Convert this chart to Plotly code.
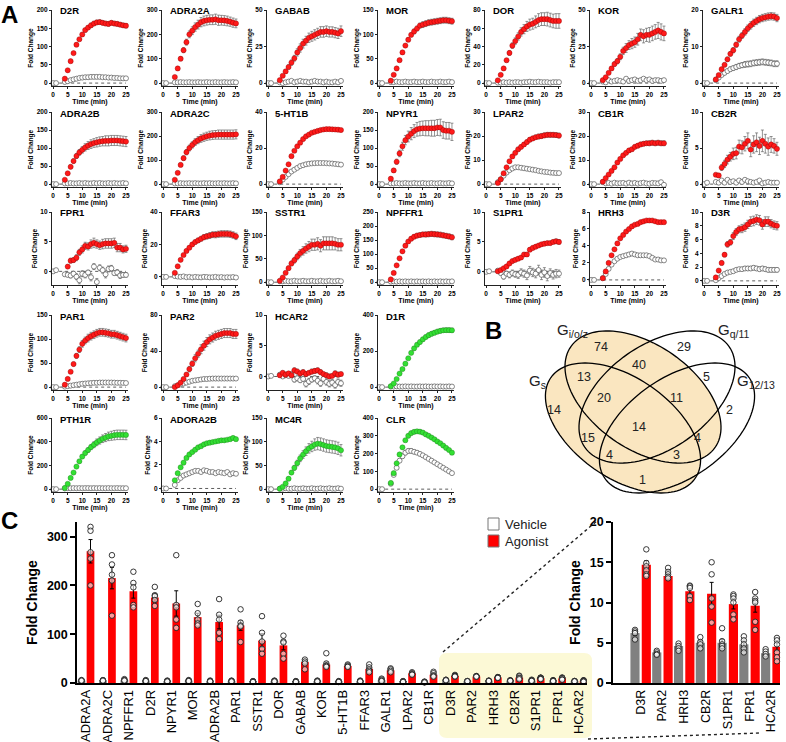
import numpy as np
import plotly.graph_objects as go

W, H = 786, 742

# ---------------- panel A data (time courses) ----------------
T_VEH = [0, 1, 4, 5, 6, 7, 8, 9, 10, 11, 12, 13, 14, 15, 16, 17, 18, 19, 20, 21, 22, 23, 24, 25]
T_AG = [4, 5, 6, 7, 8, 9, 10, 11, 12, 13, 14, 15, 16, 17, 18, 19, 20, 21, 22, 23, 24, 25]

D2R_AG = [12, 35, 60, 82, 105, 120, 133, 145, 152, 158, 163, 166, 167, 165, 163, 162, 165, 163, 162, 160, 158, 157]
D2R_AG_ERR = [1, 2, 3, 3, 4, 4, 5, 5, 5, 6, 6, 6, 6, 6, 6, 6, 6, 6, 6, 6, 6, 6]
D2R_VEH = [0, 0, 3, 5, 8, 10, 12, 14, 15, 16, 16, 17, 17, 17, 17, 16, 16, 15, 15, 14, 14, 13, 13, 13]

ADRA2A_AG = [25, 60, 100, 135, 168, 200, 215, 230, 240, 250, 255, 258, 260, 260, 262, 258, 258, 257, 255, 252, 248, 245]
ADRA2A_AG_ERR = [3, 5, 8, 10, 12, 14, 16, 17, 18, 19, 20, 20, 20, 20, 21, 21, 20, 20, 20, 19, 19, 18]
ADRA2A_VEH = [0, 0, 3, 3, 4, 3, 3, 4, 3, 3, 4, 3, 3, 4, 3, 3, 4, 3, 3, 4, 3, 3, 4, 3]

GABAB_AG = [2, 5, 8, 11, 14, 17, 21, 24, 27, 29, 31, 32, 33, 34, 35, 35, 35.5, 35, 35, 34.5, 34, 35.5]
GABAB_AG_ERR = [0.5, 0.8, 1, 1.5, 1.8, 2, 2.5, 2.8, 3, 3, 3.2, 3.4, 3.5, 3.5, 3.6, 3.6, 3.6, 3.5, 3.5, 3.5, 3.5, 3.6]
GABAB_VEH = [0, 0, 0.5, 0, 0.5, 1, 1.5, 0.5, 1, 1.5, 1, 1, 0.5, 1, 1.5, 1, 1, 0.5, 1, 0.5, 0.5, 1, 0.5, 1.5]

MOR_AG = [5, 17, 30, 47, 63, 77, 89, 99, 106, 112, 118, 120, 122, 124, 125, 126, 127, 128, 129, 129, 128, 127]
MOR_AG_ERR = [1, 1, 2, 2, 3, 3, 4, 4, 5, 5, 5, 6, 6, 6, 6, 6, 6, 6, 6, 6, 6, 6]
MOR_VEH = [0, 0, 2, 2, 3, 2, 2, 3, 2, 2, 3, 2, 2, 3, 2, 2, 3, 2, 2, 3, 2, 2, 3, 2]

DOR_AG = [3, 9, 16, 25, 33, 41, 46, 51, 56, 59, 62, 64, 65, 67, 69, 70, 70, 70, 69, 68, 68, 68]
DOR_AG_ERR = [0.5, 1, 1.5, 2, 2.5, 3, 3.5, 4, 4.5, 5, 5.5, 6, 6, 6.5, 7, 7, 7, 7.5, 7.5, 7.5, 8, 8]
DOR_VEH = [0, 0, 0.5, 0.5, 1, 0.5, 1, 0.5, 1, 1, 0.5, 1, 1, 1.5, 1, 1, 1.5, 1, 1, 1, 0.5, 1, 1, 1]

KOR_AG = [2, 4, 7, 10, 13, 15, 18, 22, 24, 26, 27, 28, 30, 33, 32, 33, 33, 34, 35, 36, 35, 34]
KOR_AG_ERR = [0.5, 0.8, 1, 1.2, 1.5, 1.8, 2, 2.5, 3, 3, 3.5, 3.5, 4, 4, 4.5, 4.5, 5, 5, 5, 5.5, 5.5, 5]
KOR_VEH = [0, 0, 1, 0.5, 2, 1, 1.5, 2, 1.5, 1, 3, 1.5, 2, 2.5, 1.5, 2, 3, 2, 2.5, 1.5, 2, 2, 1.5, 2]

GALR1_AG = [1, 2.2, 3.8, 5, 6.5, 8, 9, 10.5, 12, 13, 14, 15, 15.8, 16.5, 17, 17.5, 17.8, 18, 18.2, 18.3, 18.2, 17.8]
GALR1_AG_ERR = [0.2, 0.3, 0.4, 0.5, 0.6, 0.6, 0.7, 0.7, 0.8, 0.8, 0.9, 0.9, 1, 1, 1, 1, 1, 1, 1, 1, 1, 1]
GALR1_VEH = [0, 0, 0.8, 1.5, 2.2, 2.8, 3.3, 3.8, 4.1, 4.4, 4.7, 4.9, 5.1, 5.2, 5.3, 5.5, 5.6, 5.7, 5.8, 5.7, 5.6, 5.5, 5.3, 5.3]
GALR1_VEH_ERR = [0, 0, 0.2, 0.3, 0.4, 0.5, 0.5, 0.6, 0.6, 0.7, 0.7, 0.7, 0.8, 0.8, 0.8, 0.8, 0.8, 0.8, 0.8, 0.8, 0.8, 0.8, 0.8, 0.8]

ADRA2B_AG = [12, 30, 48, 64, 78, 88, 95, 102, 107, 111, 114, 116, 118, 119, 120, 120, 121, 121, 121, 120, 119, 118]
ADRA2B_AG_ERR = [2, 3, 5, 6, 7, 8, 9, 10, 11, 12, 12, 13, 13, 13, 14, 14, 14, 14, 14, 14, 14, 14]
ADRA2B_VEH = [0, 0, 2, 2, 3, 2, 2, 3, 2, 3, 2, 2, 3, 2, 3, 2, 2, 3, 2, 3, 2, 2, 3, 2]

ADRA2C_AG = [18, 47, 80, 108, 133, 150, 163, 175, 183, 190, 195, 199, 202, 204, 205, 206, 206, 206, 206, 206, 206, 207]
ADRA2C_AG_ERR = [3, 5, 7, 9, 11, 12, 13, 14, 15, 16, 17, 17, 18, 18, 18, 19, 19, 19, 19, 19, 19, 19]
ADRA2C_VEH = [0, 0, 3, 3, 4, 3, 3, 4, 3, 4, 3, 3, 4, 3, 4, 3, 3, 4, 3, 4, 3, 3, 4, 3]

HT1B_AG = [1.5, 4, 7.5, 11, 15.5, 18.5, 21, 23, 25, 26.5, 27.5, 28.5, 29, 29.5, 30, 30.3, 30.5, 30.5, 30.4, 30.3, 30.2, 30]
HT1B_VEH = [0, 0, 1, 2.5, 4, 5.5, 7, 8, 9, 10, 10.5, 11, 11.3, 11.5, 11.6, 11.7, 11.7, 11.7, 11.6, 11.5, 11.4, 11.2, 11, 10.8]

NPYR1_AG = [15, 38, 62, 85, 105, 122, 132, 140, 147, 152, 154, 155, 155, 155, 155, 155, 157, 157, 150, 148, 148, 145]
NPYR1_AG_ERR = [3, 5, 7, 9, 11, 13, 15, 17, 18, 19, 20, 20, 21, 21, 22, 22, 22, 23, 23, 23, 23, 24]
NPYR1_VEH = [0, 0, 2, 2, 3, 2, 2, 3, 2, 2, 3, 2, 2, 3, 2, 2, 3, 2, 2, 3, 2, 2, 3, 2]

LPAR2_AG = [0.5, 2, 4.5, 7, 9.5, 11.5, 13, 14.5, 15.5, 16.5, 17.5, 18.5, 19, 19.5, 19.8, 20, 20.3, 20.5, 20.5, 20.5, 20.4, 20.2]
LPAR2_AG_ERR = [0.2, 0.3, 0.4, 0.5, 0.6, 0.7, 0.7, 0.8, 0.8, 0.8, 0.9, 0.9, 0.9, 0.9, 1, 1, 1, 1, 1, 1, 1, 1]
LPAR2_VEH = [0, 0, 0.8, 2, 3.5, 4.8, 5.8, 6.5, 7, 7, 6.8, 6.6, 6.4, 6.2, 6, 5.8, 5.5, 5.3, 5.1, 5, 4.8, 4.7, 4.6, 4.6]

CB1R_AG = [1, 2.5, 4, 5.5, 7, 9, 10.5, 12, 13, 14, 14.5, 15.5, 16, 16.5, 16.8, 17, 17, 17.2, 17, 17.2, 17, 17]
CB1R_AG_ERR = [0.2, 0.3, 0.4, 0.5, 0.5, 0.6, 0.6, 0.7, 0.7, 0.8, 0.8, 0.8, 0.9, 0.9, 0.9, 0.9, 1, 1, 1, 1, 1, 1]
CB1R_VEH = [0, 0, 0.8, 0.3, 0.5, 0.2, 0.6, 0.3, 0.4, 0.5, 0.2, 0.6, 0.3, 0.5, 0.2, 0.4, 0.6, 0.3, 0.2, 0.5, 0.4, 0.3, 0.8, -0.3]

CB2R_AG = [1.3, 1.2, 2.3, 2.8, 3.4, 3.8, 4.2, 4.3, 5.2, 5.1, 5.6, 6, 4.8, 5.5, 5.8, 5.3, 6, 5.6, 5.2, 5.5, 5.3, 4.9]
CB2R_AG_ERR = [0.2, 0.2, 0.4, 0.5, 0.6, 0.6, 0.8, 0.8, 0.9, 0.9, 1, 1.1, 1, 1.2, 1.3, 1.2, 1.5, 1.3, 1.2, 1.1, 1, 0.9]
CB2R_VEH = [0, 0.2, 0.3, 0.2, 0.5, 0.2, 0.6, 0.3, 0.4, 0.2, 0.5, 0.3, 0.6, 0.4, 0.3, 0.2, 0.3, 0.5, 0.1, 0.2, 0.3, 0.2, 0.2, 0.2]

FPR1_AG = [None, 0.8, 1.8, 1.9, 2.3, 3.2, 3.7, 4.3, 4.2, 4.6, 4.8, 4.6, 4.4, 4.6, 4.7, 4.7, 4.7, 4.8, 4.0, 4.0, 3.7, 3.8]
FPR1_AG_ERR = [0, 0.3, 0.4, 0.4, 0.5, 0.5, 0.6, 0.6, 0.6, 0.7, 0.8, 0.7, 0.7, 0.8, 0.8, 0.8, 0.8, 0.8, 0.7, 0.7, 0.6, 0.6]
FPR1_VEH = [0, 0.2, -0.5, -0.6, -0.7, -0.4, -0.9, -1.5, -0.4, -0.6, -0.2, -1.0, 0.8, -1.8, 0.6, 0.2, -0.5, 0.4, 0.5, -0.3, -0.2, -0.7, -0.6, -0.6]
FPR1_VEH_ERR = [0, 0, 0.3, 0.3, 0.4, 0.4, 0.5, 0.6, 0.5, 0.5, 0.4, 0.6, 0.5, 0.6, 0.5, 0.5, 0.6, 0.5, 0.5, 0.4, 0.5, 0.5, 0.4, 0.4]

FFAR3_AG = [2.5, 6.5, 10.5, 13.5, 16, 18, 20, 21.5, 22.5, 23.5, 24.5, 25, 25.5, 26, 26, 26.3, 26.5, 26.5, 26.5, 26.3, 25.8, 25]
FFAR3_AG_ERR = [0.3, 0.5, 0.7, 0.8, 1, 1.1, 1.2, 1.3, 1.4, 1.5, 1.6, 1.7, 1.8, 1.8, 1.9, 1.9, 2, 2, 2, 2, 2, 2]
FFAR3_VEH = [0, 0, 0.5, 0.2, 0, 0.3, -0.2, 0, -0.3, 0, -0.2, -0.3, 0, -0.1, -0.3, -0.2, 0, -0.3, -0.1, -0.4, -0.2, -0.3, -0.1, -0.4]

SSTR1_AG = [3, 10, 20, 30, 40, 47, 55, 62, 67, 72, 76, 80, 80, 82, 78, 83, 83, 83, 83, 82, 80, 80]
SSTR1_AG_ERR = [1, 2, 3, 4, 5, 6, 7, 8, 9, 10, 11, 12, 12, 13, 13, 14, 14, 14, 14, 13, 13, 13]
SSTR1_VEH = [0, 0, 2, 2, 3, 2, 2, 3, 2, 2, 3, 2, 2, 3, 2, 2, 3, 2, 2, 3, 2, 2, 3, 2]

NPFFR1_AG = [10, 33, 60, 85, 110, 130, 145, 155, 162, 166, 168, 170, 170, 171, 172, 171, 170, 169, 167, 165, 163, 160]
NPFFR1_AG_ERR = [2, 3, 4, 5, 5, 6, 6, 7, 7, 8, 8, 8, 9, 9, 9, 9, 9, 9, 9, 9, 9, 9]
NPFFR1_VEH = [0, 0, 2, 3, 2, 3, 2, 3, 2, 3, 2, 3, 2, 3, 2, 3, 2, 3, 2, 3, 2, 3, 2, 3]

S1PR1_AG = [0.1, 0.3, 0.6, 0.9, 1.4, 1.8, 2.0, 2.2, 2.4, 2.9, 2.9, 3.7, 4.0, 4.2, 4.4, 4.6, 4.7, 4.8, 4.8, 5.0, 5.1, 5.0]
S1PR1_AG_ERR = [0.1, 0.1, 0.2, 0.2, 0.2, 0.3, 0.3, 0.3, 0.3, 0.3, 0.3, 0.3, 0.3, 0.3, 0.3, 0.3, 0.3, 0.3, 0.3, 0.3, 0.4, 0.4]
S1PR1_VEH = [0, 0.1, 0.2, -0.2, -0.8, -0.3, -0.5, -0.2, -0.4, -0.5, -0.1, -0.3, -0.6, 0.2, -0.1, -0.3, 0.3, -0.5, -0.1, -0.7, -0.2, -0.5, -0.3, -0.3]
S1PR1_VEH_ERR = [0, 0, 0.2, 0.3, 0.4, 0.4, 0.5, 0.5, 0.5, 0.6, 0.6, 0.6, 0.7, 0.7, 0.7, 0.7, 0.8, 0.8, 0.8, 0.8, 0.7, 0.7, 0.7, 0.6]

HRH3_AG = [0.2, 1, 2, 2.9, 3.6, 4.3, 4.9, 5.3, 5.7, 6, 6.3, 6.5, 6.6, 6.8, 6.9, 7, 7, 7, 6.9, 6.8, 6.8, 6.8]
HRH3_VEH = [0, 0, 0.2, 0.7, 1.3, 1.8, 2.2, 2.5, 2.7, 2.8, 2.9, 3, 3.1, 3, 2.9, 2.9, 2.9, 2.9, 2.8, 2.6, 2.4, 2.4, 2.3, 2.3]

D3R_AG = [0.5, 1.5, 2.6, 3.8, 5.3, 5.6, 6.5, 7.1, 7.5, 7.6, 7.8, 8.2, 8.6, 8.7, 8.9, 8.8, 8.2, 8.6, 8.6, 8.3, 8.1, 8.0]
D3R_AG_ERR = [0.1, 0.2, 0.3, 0.3, 0.4, 0.4, 0.5, 0.5, 0.5, 0.6, 0.6, 0.6, 0.7, 0.7, 0.7, 0.7, 0.7, 0.7, 0.7, 0.6, 0.6, 0.6]
D3R_VEH = [0, 0, 0.1, 0.4, 0.7, 1, 1.2, 1.3, 1.4, 1.6, 1.7, 1.7, 1.8, 1.8, 1.8, 1.9, 1.8, 1.7, 1.8, 1.7, 1.6, 1.6, 1.6, 1.6]
D3R_VEH_ERR = [0, 0, 0.1, 0.1, 0.1, 0.2, 0.2, 0.2, 0.2, 0.2, 0.2, 0.2, 0.3, 0.3, 0.3, 0.3, 0.3, 0.3, 0.3, 0.3, 0.3, 0.3, 0.3, 0.3]

PAR1_AG = [5, 17, 32, 48, 65, 78, 90, 97, 102, 106, 109, 112, 114, 114, 113, 112, 110, 110, 108, 106, 104, 102]
PAR1_AG_ERR = [1, 2, 3, 4, 5, 6, 7, 7, 8, 8, 8, 8, 8, 8, 8, 8, 8, 8, 8, 8, 8, 8]
PAR1_VEH = [0, 0, 1, 2, 3, 4, 5, 6, 7, 7.5, 8, 8.5, 9, 9, 9.5, 9.5, 9.5, 9.5, 9.5, 9.3, 9, 9, 8.8, 8.5]

PAR2_AG = [0, 2, 5, 9, 14, 20, 26, 32, 37, 42, 46, 50, 53, 55, 57, 58, 59, 60, 60, 60, 59, 59]
PAR2_AG_ERR = [0.5, 1, 1, 2, 2, 3, 3, 4, 4, 5, 5, 5, 5, 5, 5, 5, 5, 5, 5, 5, 5, 5]
PAR2_VEH = [0, 0, 1, 2, 3, 4, 5, 6, 7, 7.5, 8, 8.5, 9, 9, 9.3, 9.5, 9.5, 9.5, 9.5, 9.5, 9.5, 9.5, 9.5, 9.5]

HCAR2_AG = [0.2, 0.6, 0.3, 0.5, 0.2, 1.0, 0.8, 0.5, 0.7, 0.4, 0.6, 0.8, 0.9, 1.0, 0.7, 0.4, 0.2, 0.0, 0.1, 0.5, 0.3, 0.4]
HCAR2_AG_ERR = [0.3, 0.3, 0.4, 0.3, 0.4, 0.4, 0.4, 0.3, 0.4, 0.4, 0.3, 0.4, 0.4, 0.4, 0.4, 0.3, 0.4, 0.4, 0.3, 0.4, 0.4, 0.3]
HCAR2_VEH = [0, 0.1, 0.3, 0, 0.2, 0.1, 0.4, -0.5, -0.3, -0.6, -0.4, -1.2, -0.8, -0.5, -0.3, -0.7, -1.1, -0.4, -0.9, -1.2, -1.0, -1.4, -0.9, -1.1]
HCAR2_VEH_ERR = [0, 0, 0.2, 0.2, 0.3, 0.3, 0.3, 0.4, 0.4, 0.4, 0.4, 0.5, 0.5, 0.4, 0.4, 0.5, 0.5, 0.4, 0.5, 0.5, 0.5, 0.5, 0.5, 0.5]

D1R_AG = [5, 20, 45, 75, 100, 130, 160, 190, 215, 235, 250, 265, 278, 288, 296, 302, 308, 312, 315, 316, 316, 315]
D1R_AG_ERR = [1, 2, 3, 4, 5, 6, 7, 8, 9, 10, 10, 11, 11, 12, 12, 12, 12, 12, 12, 12, 12, 12]
D1R_VEH = [0, 0, 3, 3, 4, 3, 3, 4, 3, 4, 3, 3, 4, 3, 4, 3, 3, 4, 3, 4, 3, 3, 4, 3]

PTH1R_AG = [10, 45, 95, 140, 190, 235, 275, 305, 330, 355, 375, 395, 410, 425, 435, 445, 450, 455, 458, 458, 458, 457]
PTH1R_AG_ERR = [2, 4, 6, 8, 10, 12, 15, 18, 20, 22, 25, 28, 30, 32, 34, 36, 38, 40, 40, 40, 40, 40]
PTH1R_VEH = [0, 0, 6, 8, 8, 9, 8, 9, 8, 9, 9, 8, 9, 8, 9, 8, 8, 9, 8, 8, 9, 8, 8, 8]

ADORA2B_AG = [0.7, 1.3, 1.8, 2.2, 2.6, 2.9, 3.1, 3.3, 3.5, 3.6, 3.75, 3.85, 3.9, 3.95, 4, 4.05, 4.1, 4.1, 4.15, 4.2, 4.3, 4.2]
ADORA2B_VEH = [0, 0, 0.3, 0.7, 0.9, 1.1, 1.2, 1.3, 1.4, 1.5, 1.5, 1.4, 1.55, 1.5, 1.4, 1.4, 1.3, 1.4, 1.35, 1.3, 1.4, 1.2, 1.3, 1.25]

MC4R_AG = [1, 5, 12, 22, 35, 45, 55, 65, 73, 80, 86, 90, 94, 96, 95, 93, 91, 90, 89, 88, 86, 82]
MC4R_AG_ERR = [0.5, 1, 2, 3, 4, 5, 6, 7, 8, 9, 10, 11, 12, 13, 13, 13, 13, 13, 13, 13, 13, 12]
MC4R_VEH = [0, 0, 1, 1, 2, 1, 1, 2, 1, 1, 2, 1, 1, 2, 1, 1, 2, 1, 1, 2, 1, 1, 2, 1]

CLR_AG = [35, 90, 145, 195, 235, 275, 300, 315, 322, 325, 323, 318, 308, 300, 290, 280, 268, 258, 245, 232, 220, 205]
CLR_AG_ERR = [3, 5, 6, 8, 8, 9, 10, 10, 10, 10, 10, 10, 10, 10, 9, 9, 9, 8, 8, 8, 7, 7]
CLR_VEH = [0, 0, 30, 80, 120, 160, 185, 205, 215, 215, 210, 205, 198, 190, 180, 170, 160, 150, 140, 130, 120, 110, 100, 90]
CLR_VEH_ERR = [0, 0, 3, 6, 8, 10, 12, 12, 12, 12, 11, 10, 10, 9, 9, 8, 8, 7, 7, 6, 6, 5, 5, 5]

RED, GREEN = "#ff1a1a", "#33e033"

# name, agonist, agonist err, vehicle, vehicle err, y max, y min, dtick, colour, row, col
PANELS = [
    ("D2R", D2R_AG, D2R_AG_ERR, D2R_VEH, None, 200, -8, 50, RED, 0, 0),
    ("ADRA2A", ADRA2A_AG, ADRA2A_AG_ERR, ADRA2A_VEH, None, 300, -12, 100, RED, 0, 1),
    ("GABAB", GABAB_AG, GABAB_AG_ERR, GABAB_VEH, None, 50, -2, 25, RED, 0, 2),
    ("MOR", MOR_AG, MOR_AG_ERR, MOR_VEH, None, 150, -6, 50, RED, 0, 3),
    ("DOR", DOR_AG, DOR_AG_ERR, DOR_VEH, None, 80, -3.2, 20, RED, 0, 4),
    ("KOR", KOR_AG, KOR_AG_ERR, KOR_VEH, None, 50, -2, 25, RED, 0, 5),
    ("GALR1", GALR1_AG, GALR1_AG_ERR, GALR1_VEH, GALR1_VEH_ERR, 20, -0.8, 10, RED, 0, 6),
    ("ADRA2B", ADRA2B_AG, ADRA2B_AG_ERR, ADRA2B_VEH, None, 200, -8, 50, RED, 1, 0),
    ("ADRA2C", ADRA2C_AG, ADRA2C_AG_ERR, ADRA2C_VEH, None, 300, -12, 100, RED, 1, 1),
    ("5-HT1B", HT1B_AG, None, HT1B_VEH, None, 40, -1.6, 20, RED, 1, 2),
    ("NPYR1", NPYR1_AG, NPYR1_AG_ERR, NPYR1_VEH, None, 200, -8, 50, RED, 1, 3),
    ("LPAR2", LPAR2_AG, LPAR2_AG_ERR, LPAR2_VEH, None, 30, -1.2, 10, RED, 1, 4),
    ("CB1R", CB1R_AG, CB1R_AG_ERR, CB1R_VEH, None, 30, -1.2, 10, RED, 1, 5),
    ("CB2R", CB2R_AG, CB2R_AG_ERR, CB2R_VEH, None, 10, -0.4, 5, RED, 1, 6),
    ("FPR1", FPR1_AG, FPR1_AG_ERR, FPR1_VEH, FPR1_VEH_ERR, 10, -2.3, 5, RED, 2, 0),
    ("FFAR3", FFAR3_AG, FFAR3_AG_ERR, FFAR3_VEH, None, 40, -5, 20, RED, 2, 1),
    ("SSTR1", SSTR1_AG, SSTR1_AG_ERR, SSTR1_VEH, None, 150, -6, 50, RED, 2, 2),
    ("NPFFR1", NPFFR1_AG, NPFFR1_AG_ERR, NPFFR1_VEH, None, 250, -10, 50, RED, 2, 3),
    ("S1PR1", S1PR1_AG, S1PR1_AG_ERR, S1PR1_VEH, S1PR1_VEH_ERR, 10, -2.2, 5, RED, 2, 4),
    ("HRH3", HRH3_AG, None, HRH3_VEH, None, 8, -0.6, 2, RED, 2, 5),
    ("D3R", D3R_AG, D3R_AG_ERR, D3R_VEH, D3R_VEH_ERR, 10, -0.6, 2, RED, 2, 6),
    ("PAR1", PAR1_AG, PAR1_AG_ERR, PAR1_VEH, None, 150, -6, 50, RED, 3, 0),
    ("PAR2", PAR2_AG, PAR2_AG_ERR, PAR2_VEH, None, 80, -3.2, 40, RED, 3, 1),
    ("HCAR2", HCAR2_AG, HCAR2_AG_ERR, HCAR2_VEH, HCAR2_VEH_ERR, 10, -2.2, 5, RED, 3, 2),
    ("D1R", D1R_AG, D1R_AG_ERR, D1R_VEH, None, 400, -16, 200, GREEN, 3, 3),
    ("PTH1R", PTH1R_AG, PTH1R_AG_ERR, PTH1R_VEH, None, 600, -24, 200, GREEN, 4, 0),
    ("ADORA2B", ADORA2B_AG, None, ADORA2B_VEH, None, 6, -0.3, 2, GREEN, 4, 1),
    ("MC4R", MC4R_AG, MC4R_AG_ERR, MC4R_VEH, None, 150, -6, 50, GREEN, 4, 2),
    ("CLR", CLR_AG, CLR_AG_ERR, CLR_VEH, CLR_VEH_ERR, 400, -16, 100, GREEN, 4, 3),
]

# ---------------- panel C data (peak responses) ----------------
CATS = ["ADRA2A", "ADRA2C", "NPFFR1", "D2R", "NPYR1", "MOR", "ADRA2B", "PAR1", "SSTR1", "DOR",
        "GABAB", "KOR", "5-HT1B", "FFAR3", "GALR1", "LPAR2", "CB1R", "D3R", "PAR2", "HRH3",
        "CB2R", "S1PR1", "FPR1", "HCAR2"]
INSET_LABELS = ["D3R", "PAR2", "HRH3", "CB2R", "S1PR1", "FPR1", "HCA2R"]
AG_MEAN = [270, 215, 188, 175, 163, 135, 125, 118, 87, 77, 43, 38, 35, 29, 26, 20, 17,
           14.7, 13.3, 11.4, 11.1, 9.8, 9.6, 4.5]
AG_SEM = [24, 22, 14, 8, 26, 8, 14, 10, 14, 9, 4, 5, 2, 3, 2, 2, 2, 0.5, 0.3, 0.4, 1.4, 0.6, 0.8, 0.5]
VEH_MEAN = [5, 5, 6, 5, 4, 5, 4, 4, 3, 4, 3, 4, 3, 4, 6, 3, 2, 6.2, 3.8, 4.6, 5.0, 5.0, 4.8, 3.7]
VEH_SEM = [0.5, 0.5, 0.6, 0.4, 0.4, 0.4, 0.4, 0.4, 0.3, 0.4, 0.3, 0.4, 0.3, 0.4, 0.5, 0.3, 0.3,
           0.3, 0.1, 0.2, 0.3, 0.4, 0.4, 0.2]
AG_PTS = [[320, 312, 268, 255, 200], [262, 243, 222, 210, 138], [228, 205, 196, 160, 155],
          [197, 180, 178, 170, 158], [262, 160, 155, 130, 113], [162, 143, 130, 122, 118],
          [172, 140, 130, 103, 90], [151, 124, 118, 116, 84], [137, 103, 85, 70, 60],
          [97, 85, 83, 60, 50], [48, 44, 40, 28], [61, 40, 36, 35, 33], [38, 36, 34, 33],
          [38, 32, 28, 25, 22], [30, 28, 25, 22], [22, 20, 18, 17], [23, 20, 16, 14, 13],
          [16.6, 14.9, 14.5, 14.0, 13.5, 13.3], [14.3, 13.8, 13.5, 13.2, 13.0],
          [12.1, 12.0, 11.8, 10.8, 10.3], [15, 13.5, 10.5, 9.5, 7.5],
          [11, 10.8, 10.5, 10, 8.5, 7.9], [11.3, 10.5, 10.2, 10, 7.6, 6.6],
          [5.6, 5.3, 4.8, 3.8, 3.2, 2.7]]
VEH_PTS = [[6, 5, 4, 5], [6, 5, 4, 5], [8, 6, 5, 5], [6, 5, 4, 4], [5, 4, 4, 3], [6, 5, 4, 4],
           [5, 4, 4, 3], [5, 4, 4, 3], [4, 3, 3, 2], [5, 4, 4, 3], [4, 3, 3, 2], [5, 4, 4, 3],
           [4, 3, 3, 2], [5, 4, 4, 3], [9, 7, 5, 4], [4, 3, 3, 2], [3, 2, 2, 1],
           [6.6, 6.4, 6.2, 5.4], [4.0, 3.8, 3.6, 3.5], [4.9, 4.6, 4.3, 4.0], [5.7, 5.1, 4.8, 4.3],
           [6.8, 5.2, 4.8, 4.6, 4.3], [5.8, 5.3, 4.8, 4.3, 3.8], [4.2, 3.9, 3.6, 3.3]]

# ---------------- Venn (panel B) ----------------
VENN_NAMES = ["G<sub>s</sub>", "G<sub>i/o/z</sub>", "G<sub>q/11</sub>", "G<sub>12/13</sub>"]
VENN_COUNTS = [74, 29, 40, 13, 5, 20, 11, 14, 2, 14, 15, 4, 4, 3, 1]


def px(x):
    return x / W


def py(y):
    return 1 - y / H


def axis_key(k, a):
    return a + "axis" if k == 1 else f"{a}axis{k}"


def ref(k, a):
    return a if k == 1 else f"{a}{k}"


FONT = "Liberation Sans, Arial, sans-serif"
COL_X = [52, 162, 267, 378, 485, 590, 703]
ROW_TOP = [10, 112, 212, 315, 418]
ROW_AXIS = [86, 187, 285, 390, 492]

fig = go.Figure()
layout = {}
shapes = []
annotations = []

tick_small = dict(family=FONT, size=6.5, color="black", weight="bold")
title_small = dict(family=FONT, size=7, color="black", weight="bold")

for k, (name, ag, ag_err, veh, veh_err, ymax, ymin, dtick, colour, row, col) in enumerate(PANELS, start=1):
    xr, yr = ref(k, "x"), ref(k, "y")
    fig.add_trace(go.Scatter(
        x=T_VEH, y=veh, xaxis=xr, yaxis=yr, mode="markers", showlegend=False, cliponaxis=False,
        marker=dict(size=5, color="white", line=dict(color="#555555", width=0.7)),
        error_y=dict(type="data", array=veh_err, visible=veh_err is not None,
                     color="#666666", thickness=0.7, width=1.5)))
    fig.add_trace(go.Scatter(
        x=T_AG, y=ag, xaxis=xr, yaxis=yr, mode="markers", showlegend=False, cliponaxis=False,
        marker=dict(size=5.2, color=colour, line=dict(color="#8a0000" if colour == RED else "#1a7a1a", width=0.4)),
        error_y=dict(type="data", array=ag_err, visible=ag_err is not None,
                     color="#666666", thickness=0.7, width=1.5)))
    x0 = COL_X[col]
    layout[axis_key(k, "x")] = dict(
        domain=[px(x0), px(x0 + 76)], anchor=yr, range=[-0.4, 25.7], automargin=False,
        tickvals=[0, 5, 10, 15, 20, 25], ticks="outside", ticklen=2, tickwidth=0.8, tickcolor="#222",
        showline=True, linecolor="#222", linewidth=1, showgrid=False, zeroline=False,
        tickfont=tick_small, title=dict(text="Time (min)", font=title_small, standoff=0))
    layout[axis_key(k, "y")] = dict(
        domain=[py(ROW_AXIS[row]), py(ROW_TOP[row])], anchor=xr, range=[ymin, ymax], automargin=False,
        dtick=dtick, tick0=0, ticks="outside", ticklen=2, tickwidth=0.8, tickcolor="#222",
        showline=True, linecolor="#222", linewidth=1.2, showgrid=False, zeroline=False,
        tickfont=tick_small,
        title=dict(text="Fold Change", font=dict(title_small, size=6.5), standoff=2))
    shapes.append(dict(type="line", xref=xr, yref=yr, x0=0, x1=25, y0=0, y1=0,
                       line=dict(color="#333", width=0.8, dash="dot"), layer="below"))
    annotations.append(dict(text=name, x=px(x0 + 6), y=py(ROW_TOP[row] + 1), xref="paper", yref="paper",
                            xanchor="left", yanchor="middle", showarrow=False,
                            font=dict(family=FONT, size=9.5, color="black", weight="bold")))

# ---------------- panel C main ----------------
km = len(PANELS) + 1
ki = km + 1
n = len(CATS)
idx = np.arange(n)
xm, ym = ref(km, "x"), ref(km, "y")
big_tick = dict(family=FONT, size=12.5, color="black", weight="bold")
big_title = dict(family=FONT, size=14, color="black", weight="bold")
fig.add_trace(go.Bar(x=idx - 0.21, y=VEH_MEAN, width=0.36, xaxis=xm, yaxis=ym, showlegend=False,
                     marker=dict(color="#808080", line=dict(width=0)),
                     error_y=dict(type="data", array=VEH_SEM, color="black", thickness=1, width=2)))
fig.add_trace(go.Bar(x=idx + 0.21, y=AG_MEAN, width=0.36, xaxis=xm, yaxis=ym, showlegend=False,
                     marker=dict(color="#ff0000", line=dict(width=0)),
                     error_y=dict(type="data", array=AG_SEM, color="black", thickness=1, width=2)))
vx = [i - 0.21 for i, p in enumerate(VEH_PTS) for _ in p]
vy = [v for p in VEH_PTS for v in p]
ax_ = [i + 0.21 for i, p in enumerate(AG_PTS) for _ in p]
ay = [v for p in AG_PTS for v in p]
pt_marker = dict(size=5.5, color="rgba(255,255,255,0.6)", line=dict(color="#222", width=0.9))
fig.add_trace(go.Scatter(x=vx, y=vy, mode="markers", xaxis=xm, yaxis=ym, showlegend=False,
                         marker=pt_marker, cliponaxis=False))
fig.add_trace(go.Scatter(x=ax_, y=ay, mode="markers", xaxis=xm, yaxis=ym, showlegend=False,
                         marker=pt_marker, cliponaxis=False))
layout[axis_key(km, "x")] = dict(
    domain=[px(77), px(587)], anchor=ym, range=[-0.42, n - 1 + 0.37], automargin=False,
    tickvals=list(idx), ticktext=CATS, tickangle=-90, ticks="", showline=True, linecolor="black",
    linewidth=1.5, showgrid=False, zeroline=False, tickfont=dict(family=FONT, size=13, color="black"))
layout[axis_key(km, "y")] = dict(
    domain=[py(683), py(522)], anchor=xm, range=[0, 330], tickvals=[0, 100, 200, 300], automargin=False,
    ticks="outside", ticklen=5, tickwidth=1.5, tickcolor="black", showline=True, linecolor="black",
    linewidth=1.5, showgrid=False, zeroline=False, tickfont=big_tick,
    title=dict(text="Fold Change", font=big_title, standoff=6))

# ---------------- panel C inset ----------------
sub = slice(n - len(INSET_LABELS), n)
m = len(INSET_LABELS)
jdx = np.arange(m)
xi, yi = ref(ki, "x"), ref(ki, "y")
fig.add_trace(go.Bar(x=jdx - 0.26, y=VEH_MEAN[sub], width=0.42, xaxis=xi, yaxis=yi, showlegend=False,
                     marker=dict(color="#808080", line=dict(width=0)),
                     error_y=dict(type="data", array=VEH_SEM[sub], color="black", thickness=1, width=2)))
fig.add_trace(go.Bar(x=jdx + 0.26, y=AG_MEAN[sub], width=0.42, xaxis=xi, yaxis=yi, showlegend=False,
                     marker=dict(color="#ff0000", line=dict(width=0)),
                     error_y=dict(type="data", array=AG_SEM[sub], color="black", thickness=1, width=2)))
ivx = [j - 0.26 for j, p in enumerate(VEH_PTS[sub]) for _ in p]
ivy = [v for p in VEH_PTS[sub] for v in p]
iax = [j + 0.26 for j, p in enumerate(AG_PTS[sub]) for _ in p]
iay = [v for p in AG_PTS[sub] for v in p]
fig.add_trace(go.Scatter(x=ivx, y=ivy, mode="markers", xaxis=xi, yaxis=yi, showlegend=False,
                         marker=pt_marker, cliponaxis=False))
fig.add_trace(go.Scatter(x=iax, y=iay, mode="markers", xaxis=xi, yaxis=yi, showlegend=False,
                         marker=pt_marker, cliponaxis=False))
layout[axis_key(ki, "x")] = dict(
    domain=[px(613), px(780)], anchor=yi, range=[-1.27, m - 1 + 0.4], automargin=False,
    tickvals=list(jdx), ticktext=INSET_LABELS, tickangle=-90, ticks="", showline=True, linecolor="black",
    linewidth=1.5, showgrid=False, zeroline=False, tickfont=dict(family=FONT, size=12.5, color="black"))
layout[axis_key(ki, "y")] = dict(
    domain=[py(683), py(522)], anchor=xi, range=[0, 20], tickvals=[0, 5, 10, 15, 20], automargin=False,
    ticks="outside", ticklen=5, tickwidth=1.5, tickcolor="black", showline=True, linecolor="black",
    linewidth=1.5, showgrid=False, zeroline=False, tickfont=big_tick,
    title=dict(text="Fold Change", font=big_title, standoff=6))

# highlight box behind the low responders
bx0, bx1, by0, by1, r = 439, 592, 653, 738, 8
box = (f"M {px(bx0 + r)},{py(by0)} L {px(bx1 - r)},{py(by0)} Q {px(bx1)},{py(by0)} {px(bx1)},{py(by0 + r)} "
       f"L {px(bx1)},{py(by1 - r)} Q {px(bx1)},{py(by1)} {px(bx1 - r)},{py(by1)} "
       f"L {px(bx0 + r)},{py(by1)} Q {px(bx0)},{py(by1)} {px(bx0)},{py(by1 - r)} "
       f"L {px(bx0)},{py(by0 + r)} Q {px(bx0)},{py(by0)} {px(bx0 + r)},{py(by0)} Z")
shapes.append(dict(type="path", path=box, xref="paper", yref="paper", fillcolor="#fcf9d6",
                   line=dict(width=0), layer="below"))
shapes.append(dict(type="line", xref="paper", yref="paper", x0=px(443), y0=py(652), x1=px(598), y1=py(520),
                   line=dict(color="#222", width=1.4, dash="dot")))
shapes.append(dict(type="line", xref="paper", yref="paper", x0=px(588), y0=py(739), x1=px(760), y1=py(733),
                   line=dict(color="#222", width=1.4, dash="dot")))

# legend of panel C
shapes.append(dict(type="rect", xref="paper", yref="paper", x0=px(488), x1=px(499), y0=py(530), y1=py(518),
                   fillcolor="white", line=dict(color="#777", width=1)))
shapes.append(dict(type="rect", xref="paper", yref="paper", x0=px(488), x1=px(499), y0=py(547), y1=py(535),
                   fillcolor="#ff0000", line=dict(color="#777", width=1)))
for txt, yy in [("Vehicle", 524), ("Agonist", 541)]:
    annotations.append(dict(text=txt, x=px(503), y=py(yy), xref="paper", yref="paper", xanchor="left",
                            yanchor="middle", showarrow=False, font=dict(family=FONT, size=13, color="#222")))


# ---------------- Venn ellipses ----------------
def ellipse_path(cx, cy, a, b, deg):
    th = np.radians(deg)
    t = np.linspace(0, 2 * np.pi, 121)
    xs = cx + a * np.cos(t) * np.cos(th) - b * np.sin(t) * np.sin(th)
    ys = cy + a * np.cos(t) * np.sin(th) + b * np.sin(t) * np.cos(th)
    pts = [f"{px(x):.5f},{py(y):.5f}" for x, y in zip(xs, ys)]
    return "M " + " L ".join(pts) + " Z"


ELL = [(623, 428, 88, 50, 35), (643, 397, 88, 52, 35), (657, 397, 88, 52, -35), (677, 428, 88, 50, -35)]
for e in ELL[:2]:
    shapes.append(dict(type="path", path=ellipse_path(*e), xref="paper", yref="paper",
                       fillcolor="#fae6c0", line=dict(width=0)))
for e in ELL:
    shapes.append(dict(type="path", path=ellipse_path(*e), xref="paper", yref="paper",
                       fillcolor="rgba(0,0,0,0)", line=dict(color="black", width=1.3)))

# set labels, placed by their left edge
for txt, x, y in zip(VENN_NAMES, [527, 555, 716, 735], [381, 331, 331, 381]):
    annotations.append(dict(text=txt, x=px(x), y=py(y), xref="paper", yref="paper", showarrow=False,
                            xanchor="left", font=dict(family=FONT, size=15, color="#222")))
VENN_POS = [(610, 347), (693, 347), (648, 365), (593, 377), (712, 377), (613, 398), (685, 398),
            (563, 410), (735, 410), (648, 427), (597, 438), (703, 438), (615, 455), (682, 455), (648, 480)]
for cnt, (x, y) in zip(VENN_COUNTS, VENN_POS):
    annotations.append(dict(text=str(cnt), x=px(x), y=py(y), xref="paper", yref="paper", showarrow=False,
                            font=dict(family=FONT, size=12.5, color="#222")))

# panel letters
for letter, x, y in [("A", 0, 0), ("B", 484, 316), ("C", 0, 506)]:
    annotations.append(dict(text=letter, x=px(x), y=py(y), xref="paper", yref="paper", xanchor="left",
                            yanchor="top", showarrow=False, borderpad=0,
                            font=dict(family=FONT, size=24, color="black", weight="bold")))

fig.update_layout(width=W, height=H, margin=dict(l=0, r=0, t=0, b=0, autoexpand=False),
                  paper_bgcolor="white", plot_bgcolor="rgba(0,0,0,0)", barmode="overlay",
                  shapes=shapes, annotations=annotations, font=dict(family=FONT, color="black"), **layout)
# the page body has a default 8px margin; drop it so the figure fills the window
fig.write_html("out.html", config={"displayModeBar": False},
               post_script="document.body.style.margin = '0px';")
